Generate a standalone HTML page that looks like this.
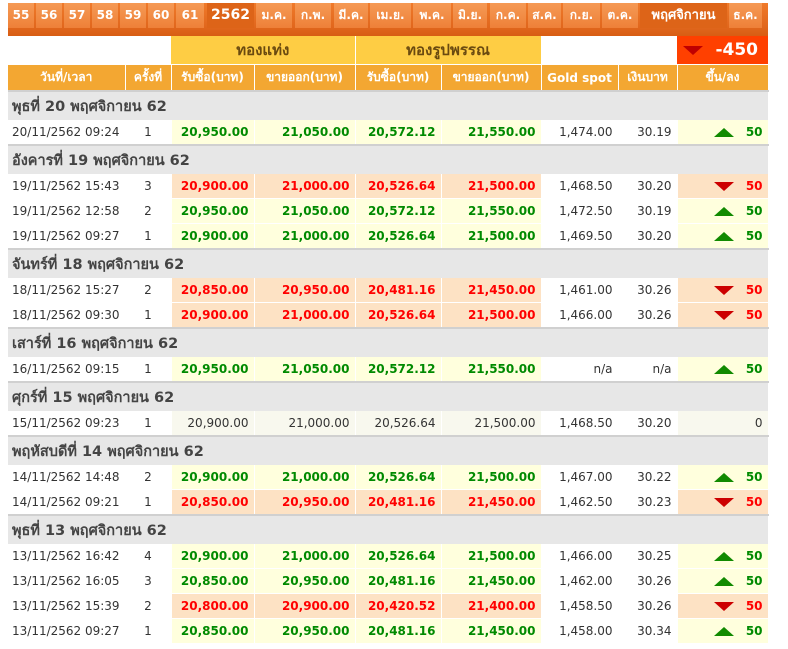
<!DOCTYPE html>
<html><head><meta charset="utf-8"><style>
body{margin:0;background:#fff;font-family:"DejaVu Sans","Liberation Sans","Noto Sans CJK SC",sans-serif;font-size:12px;color:#333;width:788px;height:649px;overflow:hidden;position:relative}
.tabs{position:absolute;left:8px;top:0;width:760px;height:36px;background:linear-gradient(#fff 0,#fff 3px,#f07a2a 3px,#e0661c 28px,#d85e14 36px)}
.tab{position:absolute;top:3px;height:25px;background:linear-gradient(#f59a55,#ee8038);color:#fff;font-size:12px;line-height:25px;text-align:center;font-weight:bold}
.tab.a{background:#dd6418;font-size:14px}
table{position:absolute;left:8px;top:36px;border-collapse:collapse;table-layout:fixed;width:760px}
td{padding:0;white-space:nowrap;overflow:hidden}
.h1 td{height:28px}
.gold{background:#fecd44;color:#6a4a10;text-align:center;font-size:15px;font-weight:bold;border-right:1px solid #fff}
.h2 td{height:25px;background:#f3a732;color:#fff;font-weight:bold;text-align:center;border-right:1px solid #fff;border-top:1px solid #fff;font-size:12px}
.g td{height:28px;background:#e7e7e7;border-top:2px solid #d0d0d0;font-size:14.5px;font-weight:bold;color:#444;padding-left:4px}
.r td{height:24px;border-right:1px solid #fff;border-bottom:1px solid #fff;font-size:12px;text-align:right;padding-right:5px}
.r td.d{text-align:left;padding-left:4px;padding-right:0}
.r td.c{text-align:center;padding-right:0}
.u{background:#ffffdd;color:#008a00;font-weight:bold}
.dn{background:#fde2c4;color:#f00;font-weight:bold}
.n{background:#f8f8ee}
.tu,.td{display:inline-block;width:0;height:0;border-left:10px solid transparent;border-right:10px solid transparent;margin-right:12px;vertical-align:middle}
.tu{border-bottom:9px solid #118a00}
.td{border-top:9px solid #cc0000}
</style></head><body>
<div class="tabs">
<div class="tab" style="left:0;width:26px">55</div>
<div class="tab" style="left:28px;width:26px">56</div>
<div class="tab" style="left:56px;width:26px">57</div>
<div class="tab" style="left:84px;width:26px">58</div>
<div class="tab" style="left:112px;width:26px">59</div>
<div class="tab" style="left:140px;width:26px">60</div>
<div class="tab" style="left:168px;width:28px">61</div>
<div class="tab a" style="left:199px;width:47px">2562</div>
<div class="tab" style="left:248px;width:36px">ม.ค.</div>
<div class="tab" style="left:287px;width:36px">ก.พ.</div>
<div class="tab" style="left:326px;width:34px">มี.ค.</div>
<div class="tab" style="left:362px;width:41px">เม.ย.</div>
<div class="tab" style="left:405px;width:38px">พ.ค.</div>
<div class="tab" style="left:445px;width:34px">มิ.ย.</div>
<div class="tab" style="left:482px;width:36px">ก.ค.</div>
<div class="tab" style="left:520px;width:33px">ส.ค.</div>
<div class="tab" style="left:555px;width:37px">ก.ย.</div>
<div class="tab" style="left:594px;width:36px">ต.ค.</div>
<div class="tab a" style="left:632px;width:87px;font-size:13px">พฤศจิกายน</div>
<div class="tab" style="left:721px;width:33px">ธ.ค.</div>
</div>
<table>
<colgroup><col style="width:117px"><col style="width:46px"><col style="width:83px"><col style="width:101px"><col style="width:86px"><col style="width:100px"><col style="width:77px"><col style="width:59px"><col style="width:91px"></colgroup>
<tr class="h1"><td></td><td></td><td colspan="2" class="gold">ทองแท่ง</td><td colspan="2" class="gold">ทองรูปพรรณ</td><td></td><td></td><td style="background:#ff4000;color:#fff;font-size:17px;font-weight:bold;text-align:right;padding-right:10px"><span class="td" style="border-top-color:#c00000"></span>-450</td></tr>
<tr class="h2"><td>วันที่/เวลา</td><td>ครั้งที่</td><td>รับซื้อ(บาท)</td><td>ขายออก(บาท)</td><td>รับซื้อ(บาท)</td><td>ขายออก(บาท)</td><td>Gold spot</td><td>เงินบาท</td><td>ขึ้น/ลง</td></tr>
<tr class="g"><td colspan="9">พุธที่ 20 พฤศจิกายน 62</td></tr>
<tr class="r"><td class="d">20/11/2562 09:24</td><td class="c">1</td><td class="u">20,950.00</td><td class="u">21,050.00</td><td class="u">20,572.12</td><td class="u">21,550.00</td><td>1,474.00</td><td>30.19</td><td class="u"><span class="tu"></span>50</td></tr>
<tr class="g"><td colspan="9">อังคารที่ 19 พฤศจิกายน 62</td></tr>
<tr class="r"><td class="d">19/11/2562 15:43</td><td class="c">3</td><td class="dn">20,900.00</td><td class="dn">21,000.00</td><td class="dn">20,526.64</td><td class="dn">21,500.00</td><td>1,468.50</td><td>30.20</td><td class="dn"><span class="td"></span>50</td></tr>
<tr class="r"><td class="d">19/11/2562 12:58</td><td class="c">2</td><td class="u">20,950.00</td><td class="u">21,050.00</td><td class="u">20,572.12</td><td class="u">21,550.00</td><td>1,472.50</td><td>30.19</td><td class="u"><span class="tu"></span>50</td></tr>
<tr class="r"><td class="d">19/11/2562 09:27</td><td class="c">1</td><td class="u">20,900.00</td><td class="u">21,000.00</td><td class="u">20,526.64</td><td class="u">21,500.00</td><td>1,469.50</td><td>30.20</td><td class="u"><span class="tu"></span>50</td></tr>
<tr class="g"><td colspan="9">จันทร์ที่ 18 พฤศจิกายน 62</td></tr>
<tr class="r"><td class="d">18/11/2562 15:27</td><td class="c">2</td><td class="dn">20,850.00</td><td class="dn">20,950.00</td><td class="dn">20,481.16</td><td class="dn">21,450.00</td><td>1,461.00</td><td>30.26</td><td class="dn"><span class="td"></span>50</td></tr>
<tr class="r"><td class="d">18/11/2562 09:30</td><td class="c">1</td><td class="dn">20,900.00</td><td class="dn">21,000.00</td><td class="dn">20,526.64</td><td class="dn">21,500.00</td><td>1,466.00</td><td>30.26</td><td class="dn"><span class="td"></span>50</td></tr>
<tr class="g"><td colspan="9">เสาร์ที่ 16 พฤศจิกายน 62</td></tr>
<tr class="r"><td class="d">16/11/2562 09:15</td><td class="c">1</td><td class="u">20,950.00</td><td class="u">21,050.00</td><td class="u">20,572.12</td><td class="u">21,550.00</td><td>n/a</td><td>n/a</td><td class="u"><span class="tu"></span>50</td></tr>
<tr class="g"><td colspan="9">ศุกร์ที่ 15 พฤศจิกายน 62</td></tr>
<tr class="r"><td class="d">15/11/2562 09:23</td><td class="c">1</td><td class="n">20,900.00</td><td class="n">21,000.00</td><td class="n">20,526.64</td><td class="n">21,500.00</td><td>1,468.50</td><td>30.20</td><td class="n">0</td></tr>
<tr class="g"><td colspan="9">พฤหัสบดีที่ 14 พฤศจิกายน 62</td></tr>
<tr class="r"><td class="d">14/11/2562 14:48</td><td class="c">2</td><td class="u">20,900.00</td><td class="u">21,000.00</td><td class="u">20,526.64</td><td class="u">21,500.00</td><td>1,467.00</td><td>30.22</td><td class="u"><span class="tu"></span>50</td></tr>
<tr class="r"><td class="d">14/11/2562 09:21</td><td class="c">1</td><td class="dn">20,850.00</td><td class="dn">20,950.00</td><td class="dn">20,481.16</td><td class="dn">21,450.00</td><td>1,462.50</td><td>30.23</td><td class="dn"><span class="td"></span>50</td></tr>
<tr class="g"><td colspan="9">พุธที่ 13 พฤศจิกายน 62</td></tr>
<tr class="r"><td class="d">13/11/2562 16:42</td><td class="c">4</td><td class="u">20,900.00</td><td class="u">21,000.00</td><td class="u">20,526.64</td><td class="u">21,500.00</td><td>1,466.00</td><td>30.25</td><td class="u"><span class="tu"></span>50</td></tr>
<tr class="r"><td class="d">13/11/2562 16:05</td><td class="c">3</td><td class="u">20,850.00</td><td class="u">20,950.00</td><td class="u">20,481.16</td><td class="u">21,450.00</td><td>1,462.00</td><td>30.26</td><td class="u"><span class="tu"></span>50</td></tr>
<tr class="r"><td class="d">13/11/2562 15:39</td><td class="c">2</td><td class="dn">20,800.00</td><td class="dn">20,900.00</td><td class="dn">20,420.52</td><td class="dn">21,400.00</td><td>1,458.50</td><td>30.26</td><td class="dn"><span class="td"></span>50</td></tr>
<tr class="r"><td class="d">13/11/2562 09:27</td><td class="c">1</td><td class="u">20,850.00</td><td class="u">20,950.00</td><td class="u">20,481.16</td><td class="u">21,450.00</td><td>1,458.00</td><td>30.34</td><td class="u"><span class="tu"></span>50</td></tr>
</table>
</body></html>
